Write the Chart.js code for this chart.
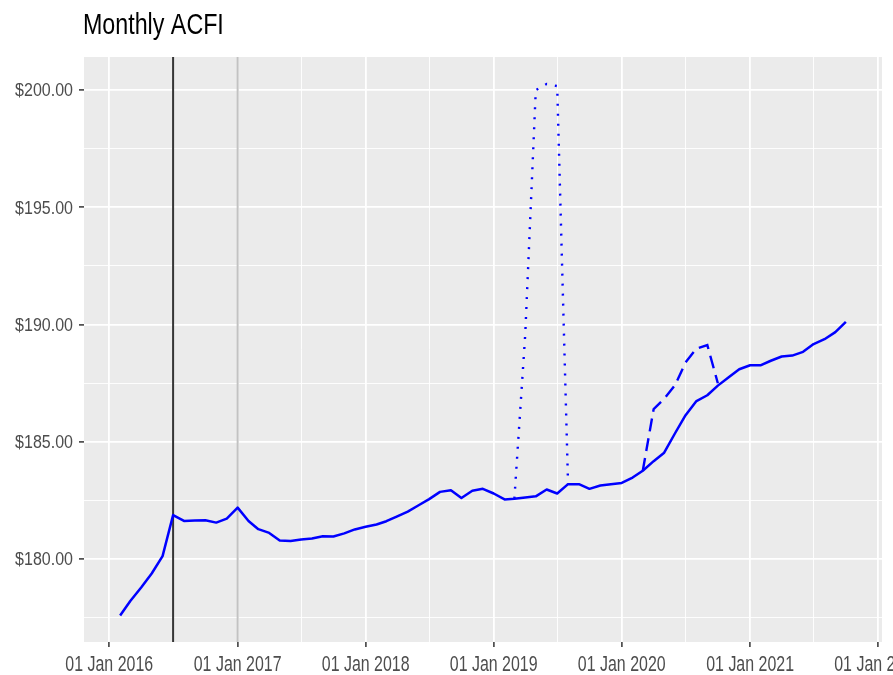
<!DOCTYPE html>
<html>
<head>
<meta charset="utf-8">
<script src="https://cdn.jsdelivr.net/npm/chart.js@4.4.1/dist/chart.umd.min.js"></script>
<style>
  html, body { margin: 0; padding: 0; background: #fff; }
  #wrap { width: 893px; height: 675px; }
</style>
</head>
<body>
<div id="wrap"><canvas id="acfiChart"></canvas></div>
<script>
// monthly ACFI, first of each month
const months = [
    '2016-02', '2016-03', '2016-04', '2016-05', '2016-06', '2016-07', '2016-08', '2016-09', '2016-10', '2016-11', '2016-12',
    '2017-01', '2017-02', '2017-03', '2017-04', '2017-05', '2017-06', '2017-07', '2017-08', '2017-09', '2017-10', '2017-11', '2017-12',
    '2018-01', '2018-02', '2018-03', '2018-04', '2018-05', '2018-06', '2018-07', '2018-08', '2018-09', '2018-10', '2018-11', '2018-12',
    '2019-01', '2019-02', '2019-03', '2019-04', '2019-05', '2019-06', '2019-07', '2019-08', '2019-09', '2019-10', '2019-11', '2019-12',
    '2020-01', '2020-02', '2020-03', '2020-04', '2020-05', '2020-06', '2020-07', '2020-08', '2020-09', '2020-10', '2020-11', '2020-12',
    '2021-01', '2021-02', '2021-03', '2021-04', '2021-05', '2021-06', '2021-07', '2021-08', '2021-09', '2021-10'
];
const acfi = [
    177.60, 178.22, 178.79, 179.39, 180.13, 181.88, 181.63, 181.65, 181.66, 181.56, 181.73,
    182.20, 181.63, 181.28, 181.12, 180.80, 180.78, 180.84, 180.88, 180.98, 180.97, 181.10, 181.27,
    181.38, 181.48, 181.62, 181.83, 182.03, 182.30, 182.56, 182.87, 182.94, 182.61, 182.92, 183.00,
    182.80, 182.55, 182.58, 182.63, 182.68, 182.97, 182.80, 183.20, 183.20, 183.00, 183.14, 183.20,
    183.25, 183.48, 183.77, 184.18, 184.54, 185.37, 186.14, 186.74, 186.99, 187.40, 187.76, 188.10,
    188.27, 188.27, 188.46, 188.64, 188.68, 188.84, 189.17, 189.38, 189.68, 190.12
];

// scenario spikes
const dottedMonths = ['2019-03', '2019-04', '2019-05', '2019-06', '2019-07', '2019-08'];
const dottedValues = [182.58, 189.60, 200.00, 200.26, 200.17, 183.20];
const dashedMonths = ['2020-03', '2020-04', '2020-05', '2020-06', '2020-07', '2020-08', '2020-09', '2020-10'];
const dashedValues = [183.77, 186.40, 186.84, 187.42, 188.39, 188.98, 189.13, 187.50];

const markerDates = ['2016-07-01', '2017-01-01'];
const markerColors = ['#363636', '#c2c2c2'];

const xMajorTicks = ['2016-01-01', '2017-01-01', '2018-01-01', '2019-01-01', '2020-01-01', '2021-01-01', '2022-01-01'];
const xMinorTicks = ['2016-07-02', '2017-07-02', '2018-07-02', '2019-07-02', '2020-07-02', '2021-07-02'];
const yMajorTicks = [180, 185, 190, 195, 200];
const yMinorTicks = [177.5, 182.5, 187.5, 192.5, 197.5];
const xLimits = ['2015-10-21', '2022-01-12'];
const yLimits = [176.47, 201.41];

const MON = ['Jan', 'Feb', 'Mar', 'Apr', 'May', 'Jun', 'Jul', 'Aug', 'Sep', 'Oct', 'Nov', 'Dec'];
const toMs = s => {
    const p = s.split('-').map(Number);
    return Date.UTC(p[0], p[1] - 1, p[2] || 1);
};
const fmtDate = v => {
    const d = new Date(v);
    return String(d.getUTCDate()).padStart(2, '0') + ' ' + MON[d.getUTCMonth()] + ' ' + d.getUTCFullYear();
};
const fmtDollar = v => '$' + v.toFixed(2);
const pts = (m, v) => m.map((s, i) => ({ x: toMs(s), y: v[i] }));

const xMajorSet = new Set(xMajorTicks.map(toMs));
const yMajorSet = new Set(yMajorTicks);

const FONT = '"Liberation Sans", Arial, sans-serif';

// the reference text is tall and narrow, so squeeze it horizontally
function narrowText(c, text, x, y, sx) {
    c.save();
    c.translate(x, y);
    c.scale(sx, 1);
    c.fillText(text, 0, 0);
    c.restore();
}

const ctx = document.getElementById('acfiChart').getContext('2d');

const acfiChart = new Chart(ctx, {
    type: 'line',
    data: {
        datasets: [
            {
                data: pts(dottedMonths, dottedValues),
                borderColor: '#0000ff',
                borderWidth: 2.4,
                borderDash: [2, 8],
                pointRadius: 0,
                fill: false
            },
            {
                data: pts(dashedMonths, dashedValues),
                borderColor: '#0000ff',
                borderWidth: 2.4,
                borderDash: [13, 7],
                pointRadius: 0,
                fill: false
            },
            {
                data: pts(months, acfi),
                borderColor: '#0000ff',
                borderWidth: 2.5,
                borderJoinStyle: 'round',
                pointRadius: 0,
                fill: false
            }
        ]
    },
    options: {
        responsive: true,
        maintainAspectRatio: false,
        animation: false,
        layout: {
            autoPadding: false,
            padding: { top: 57, right: 11, left: 0, bottom: 0 }
        },
        plugins: {
            legend: { display: false },
            tooltip: { enabled: false }
        },
        scales: {
            x: {
                type: 'linear',
                min: toMs(xLimits[0]),
                max: toMs(xLimits[1]),
                afterBuildTicks: s => {
                    s.ticks = xMajorTicks.concat(xMinorTicks).map(d => ({ value: toMs(d) }));
                },
                afterFit: s => { s.height = 33; },
                border: { display: false },
                grid: {
                    color: '#ffffff',
                    lineWidth: c => xMajorSet.has(c.tick.value) ? 1.8 : 0.9,
                    tickColor: c => xMajorSet.has(c.tick.value) ? '#333333' : 'rgba(0,0,0,0)',
                    tickLength: 5,
                    tickWidth: 1.5
                },
                ticks: { display: false, autoSkip: false }
            },
            y: {
                min: yLimits[0],
                max: yLimits[1],
                afterBuildTicks: s => {
                    s.ticks = yMajorTicks.concat(yMinorTicks).map(v => ({ value: v }));
                },
                afterFit: s => { s.width = 84; },
                border: { display: false },
                grid: {
                    color: '#ffffff',
                    lineWidth: c => yMajorSet.has(c.tick.value) ? 1.8 : 0.9,
                    tickColor: c => yMajorSet.has(c.tick.value) ? '#333333' : 'rgba(0,0,0,0)',
                    tickLength: 5,
                    tickWidth: 1.5
                },
                ticks: { display: false }
            }
        }
    },
    plugins: [{
        id: 'panelBg',
        beforeDraw: function(chart) {
            const c = chart.ctx;
            const a = chart.chartArea;
            c.save();
            c.fillStyle = '#ffffff';
            c.fillRect(0, 0, chart.width, chart.height);
            c.fillStyle = '#ebebeb';
            c.fillRect(a.left, a.top, a.right - a.left, a.bottom - a.top);
            c.restore();
        }
    }, {
        id: 'markerLines',
        beforeDatasetsDraw: function(chart) {
            const c = chart.ctx;
            const a = chart.chartArea;
            const xs = chart.scales.x;
            c.save();
            c.lineWidth = 2;
            markerDates.forEach((d, i) => {
                const x = xs.getPixelForValue(toMs(d));
                c.strokeStyle = markerColors[i];
                c.beginPath();
                c.moveTo(x, a.top);
                c.lineTo(x, a.bottom);
                c.stroke();
            });
            c.restore();
        }
    }, {
        id: 'axisText',
        afterDraw: function(chart) {
            const c = chart.ctx;
            const xs = chart.scales.x;
            const ys = chart.scales.y;
            const a = chart.chartArea;
            c.save();
            c.fillStyle = '#4d4d4d';
            c.textBaseline = 'alphabetic';

            // x tick labels
            c.font = '22px ' + FONT;
            c.textAlign = 'center';
            xs.ticks.forEach(t => {
                if (!xMajorSet.has(t.value)) return;
                narrowText(c, fmtDate(t.value), xs.getPixelForValue(t.value), a.bottom + 28.5, 0.725);
            });

            // y tick labels
            c.font = '18px ' + FONT;
            c.textAlign = 'right';
            ys.ticks.forEach(t => {
                if (!yMajorSet.has(t.value)) return;
                narrowText(c, fmtDollar(t.value), a.left - 11, ys.getPixelForValue(t.value) + 6.3, 0.89);
            });

            // title
            c.fillStyle = '#000000';
            c.font = '30px ' + FONT;
            c.textAlign = 'left';
            narrowText(c, 'Monthly ACFI', a.left - 1, 34, 0.775);
            c.restore();
        }
    }]
});
</script>
</body>
</html>
